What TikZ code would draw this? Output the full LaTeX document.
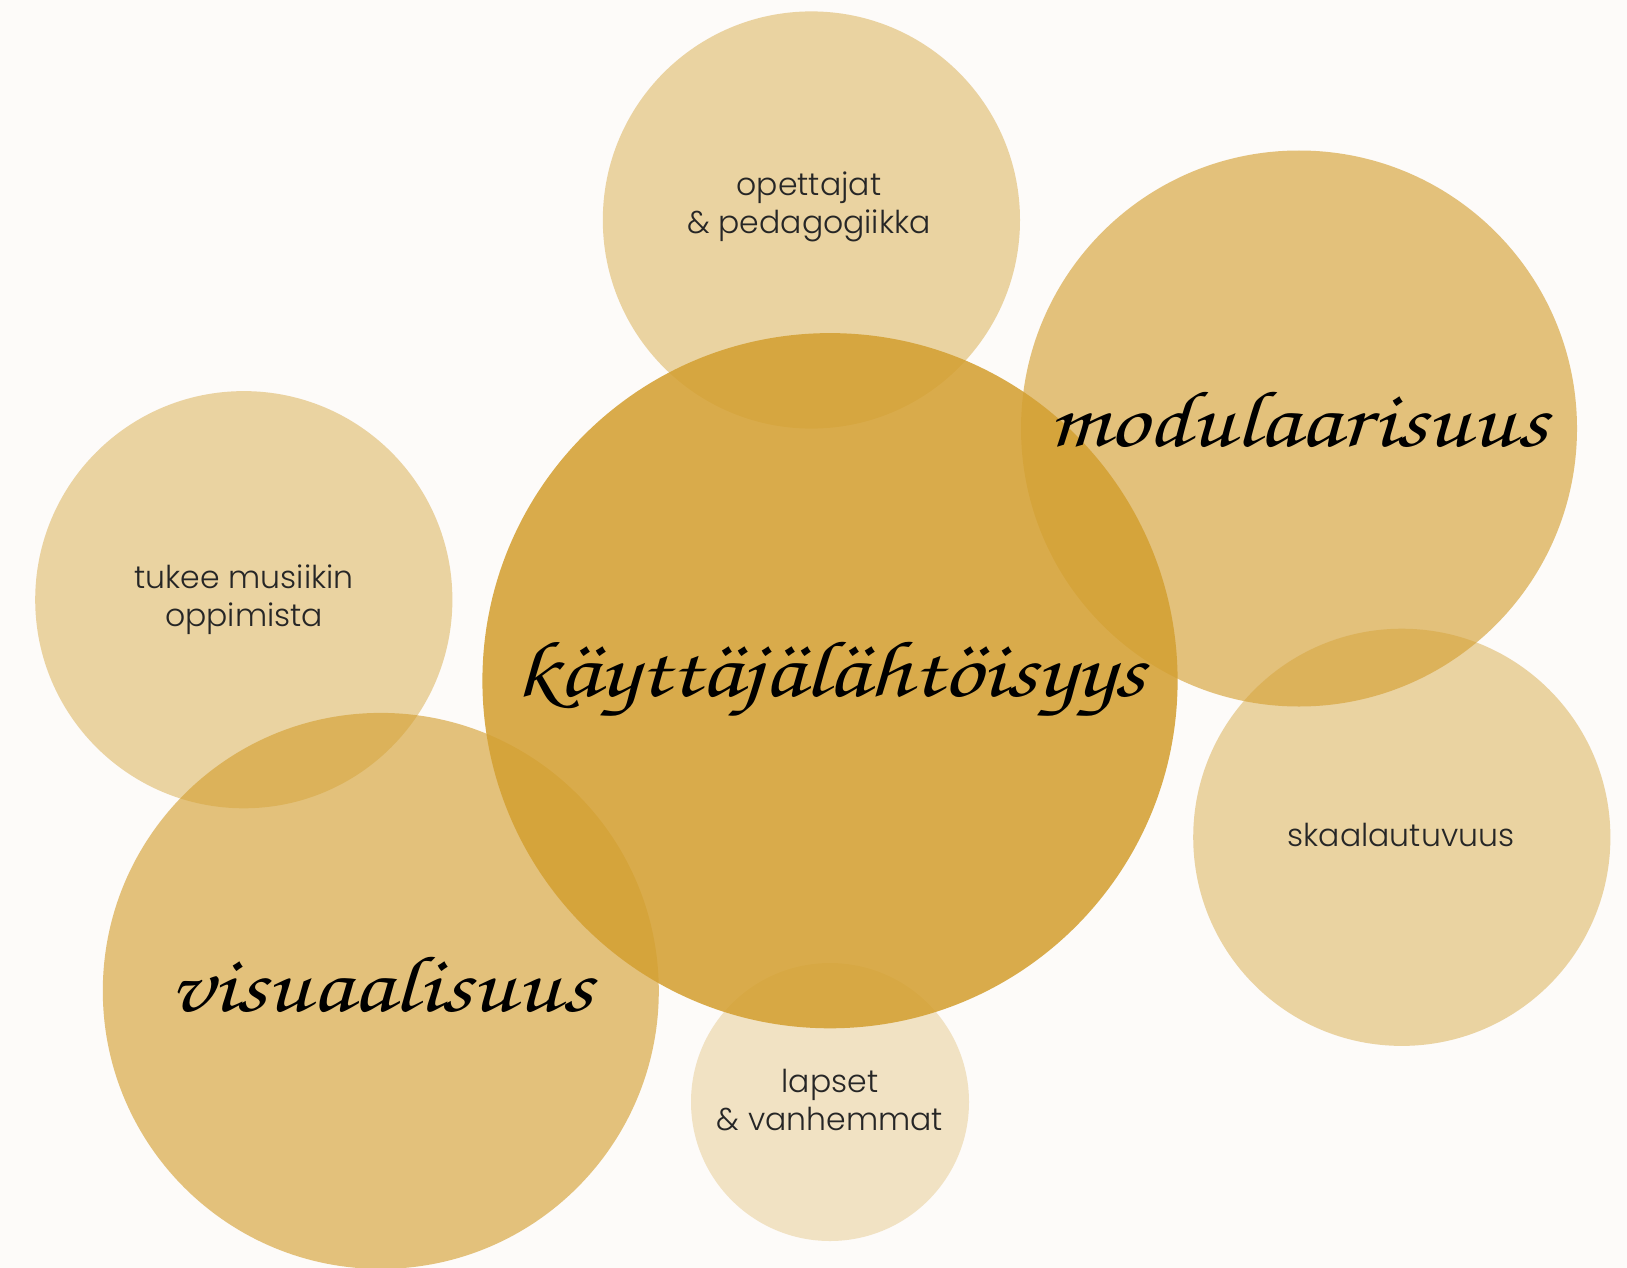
\documentclass[tikz,border=0pt]{standalone}
\usepackage{fontspec}
\usepackage{graphicx}
\newfontfamily\pop{Poppins Light}
\newfontfamily\scr{TeX Gyre Chorus}
\newcommand{\wide}[1]{\scalebox{1.22}[1]{#1}}
\definecolor{bgc}{RGB}{253,251,249}
\definecolor{gold}{RGB}{212,160,50}
\begin{document}
\begin{tikzpicture}[x=1pt,y=-1pt,
  bub/.style={circle,fill=gold,draw=none,inner sep=0pt},
  light/.style={bub,fill opacity=0.44},
  medium/.style={bub,fill opacity=0.63},
  strong/.style={bub,fill opacity=0.87},
  pale/.style={bub,fill opacity=0.27},
  sans/.style={font=\pop\fontsize{31.5}{38.5}\selectfont,text=black!85,align=center},
  script/.style={font=\scr\fontsize{80}{90}\selectfont,text=black}]
\fill[bgc] (0,0) rectangle (1627,1268);
\useasboundingbox (0,0) rectangle (1627,1268);
\node[light,minimum size=417.2pt] (c1) at (811.4,220) {};
\node[medium,minimum size=556pt] (c2) at (1299,428.5) {};
\node[light,minimum size=417.2pt] (c3) at (243.8,599.7) {};
\node[light,minimum size=417.2pt] (c5) at (1401.8,837.3) {};
\node[medium,minimum size=556pt] (c6) at (380.8,990.9) {};
\node[pale,minimum size=278pt] (c7) at (830,1102) {};
\node[strong,minimum size=695.2pt] (c4) at (830,680.7) {};
\node[sans] (t1) at (809,207) {opettajat\\\& pedagogiikka};
\node[sans] (t3) at (244,599.5) {tukee musiikin\\oppimista};
\node[sans] (t5) at (1401,835) {skaalautuvuus};
\node[sans] (t7) at (830,1100) {lapset\\\& vanhemmat};
\node[script] (s2) at (1298,420) {\wide{modulaarisuus}};
\node[script] (s4) at (830,679) {\wide{käyttäjälähtöisyys}};
\node[script] (s6) at (381,985) {\wide{visuaalisuus}};
\end{tikzpicture}
\end{document}
